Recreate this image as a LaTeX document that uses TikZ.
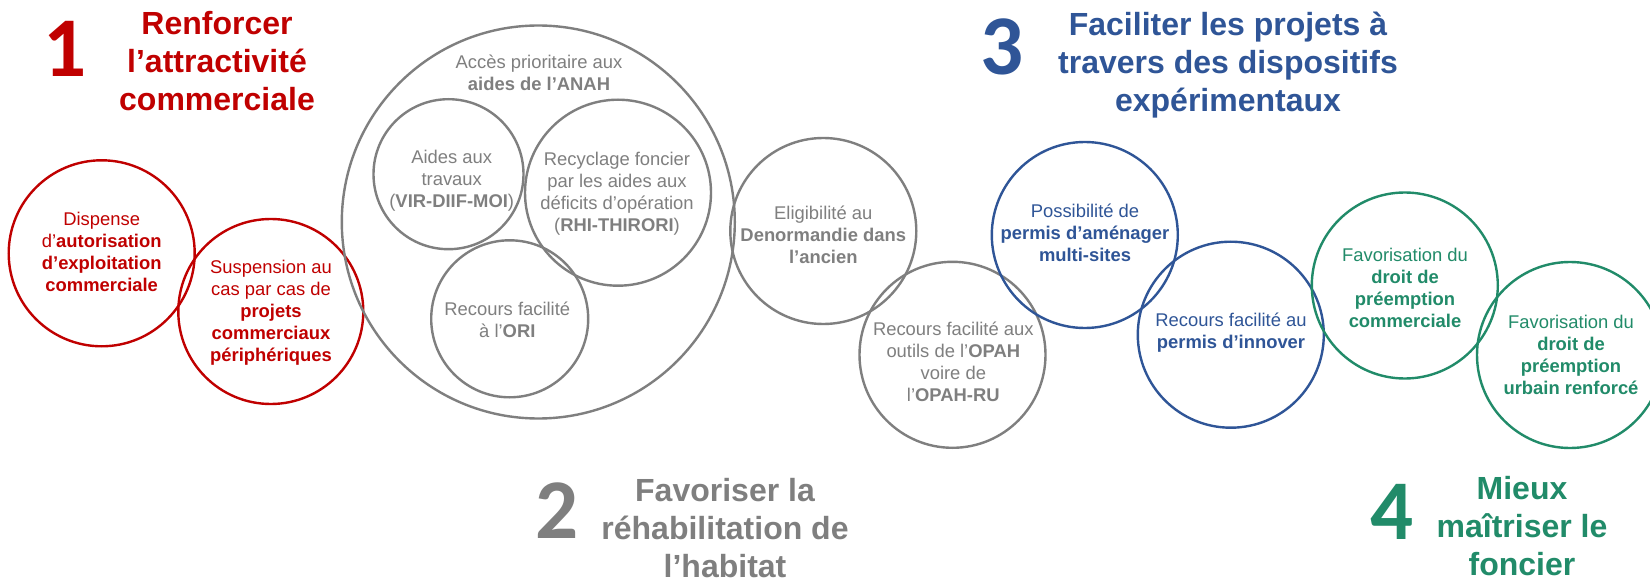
\documentclass[tikz,border=0pt]{standalone}
\usepackage{fontspec}
\setmainfont{Liberation Sans}
\newfontfamily\numfont{Carlito}
\definecolor{cred}{HTML}{C00000}
\definecolor{cgray}{HTML}{7F7F7F}
\definecolor{cblue}{HTML}{2F5597}
\definecolor{cgreen}{HTML}{218B69}
\tikzset{
  ring/.style={circle, draw=#1, line width=2.4pt, inner sep=0pt, outer sep=0pt},
  body/.style={text=#1, align=center, inner sep=0pt,
    font=\fontsize{18.4}{22}\selectfont,
    execute at begin node=\strut, execute at end node=\strut},
  title/.style={text=#1, align=center, inner sep=0pt,
    font=\fontsize{32}{38}\selectfont\bfseries,
    execute at begin node=\strut, execute at end node=\strut},
  bignum/.style={text=#1, inner sep=0pt, anchor=base,
    font=\fontsize{85}{90}\selectfont\numfont\bfseries},
}
\begin{document}
\begin{tikzpicture}[x=1pt,y=-1pt]
\useasboundingbox[fill=white] (0,0) rectangle (1650,580);
% circles
\node[ring=cred, minimum size=186pt] (r1) at (101.7,253.3) {};
\node[ring=cred, minimum size=185pt] (r2) at (270.8,311.5) {};
\node[ring=cgray, minimum size=393pt] (g0) at (538.3,222) {};
\node[ring=cgray, minimum size=150pt] (g1) at (448.5,174.2) {};
\node[ring=cgray, minimum size=186pt] (g2) at (618,192.7) {};
\node[ring=cgray, minimum size=157pt] (g3) at (509.7,318.8) {};
\node[ring=cgray, minimum size=186pt] (g4) at (823.3,231) {};
\node[ring=cgray, minimum size=186pt] (g5) at (952.5,354.8) {};
\node[ring=cblue, minimum size=186pt] (b1) at (1084.8,235) {};
\node[ring=cblue, minimum size=186pt] (b2) at (1230.8,334.7) {};
\node[ring=cgreen, minimum size=186pt] (v1) at (1404.8,285.5) {};
\node[ring=cgreen, minimum size=186pt] (v2) at (1570,355) {};
% texts
\node[body=cred] (tr1) at (101.7,255.3) {Dispense\\ d’\textbf{autorisation}\\ \textbf{d’exploitation}\\ \textbf{commerciale}};
\node[body=cred] (tr2) at (271,314.6) {Suspension au\\ cas par cas de\\ \textbf{projets}\\ \textbf{commerciaux}\\ \textbf{périphériques}};
\node[body=cgray] (tg0) at (539,76.4) {Accès prioritaire aux\\ \textbf{aides de l’ANAH}};
\node[body=cgray] (tg1) at (451.7,182.1) {Aides aux\\ travaux\\ (\textbf{VIR-DIIF-MOI})};
\node[body=cgray] (tg2) at (617,194.8) {Recyclage foncier\\ par les aides aux\\ déficits d’opération\\ (\textbf{RHI-THIRORI})};
\node[body=cgray] (tg3) at (507.3,322.8) {Recours facilité\\ à l’\textbf{ORI}};
\node[body=cgray] (tg4) at (823.3,237.6) {Eligibilité au\\ \textbf{Denormandie dans}\\ \textbf{l’ancien}};
\node[body=cgray] (tg5) at (953.3,365.3) {Recours facilité aux\\ outils de l’\textbf{OPAH}\\ voire de\\ l’\textbf{OPAH-RU}};
\node[body=cblue] (tb1) at (1085,236.4) {Possibilité de\\ \textbf{permis d’aménager}\\ \textbf{multi-sites}};
\node[body=cblue] (tb2) at (1231,334.3) {Recours facilité au\\ \textbf{permis d’innover}};
\node[body=cgreen] (tv1) at (1405,291.6) {Favorisation du\\ \textbf{droit de}\\ \textbf{préemption}\\ \textbf{commerciale}};
\node[body=cgreen] (tv2) at (1571,358.6) {Favorisation du\\ \textbf{droit de}\\ \textbf{préemption}\\ \textbf{urbain renforcé}};
% titles
\node[bignum=cred] (n1) at (65,76.7) {1};
\node[title=cred] (h1) at (217,66.4) {Renforcer\\ l’attractivité\\ commerciale};
\node[bignum=cgray] (n2) at (557.5,538) {2};
\node[title=cgray] (h2) at (725,533.4) {Favoriser la\\ réhabilitation de\\ l’habitat};
\node[bignum=cblue] (n3) at (1002.5,74.5) {3};
\node[title=cblue] (h3) at (1228,67.4) {Faciliter les projets à\\ travers des dispositifs\\ expérimentaux};
\node[bignum=cgreen] (n4) at (1391.7,539) {4};
\node[title=cgreen] (h4) at (1522,531.9) {Mieux\\ maîtriser le\\ foncier};
\end{tikzpicture}
\end{document}
